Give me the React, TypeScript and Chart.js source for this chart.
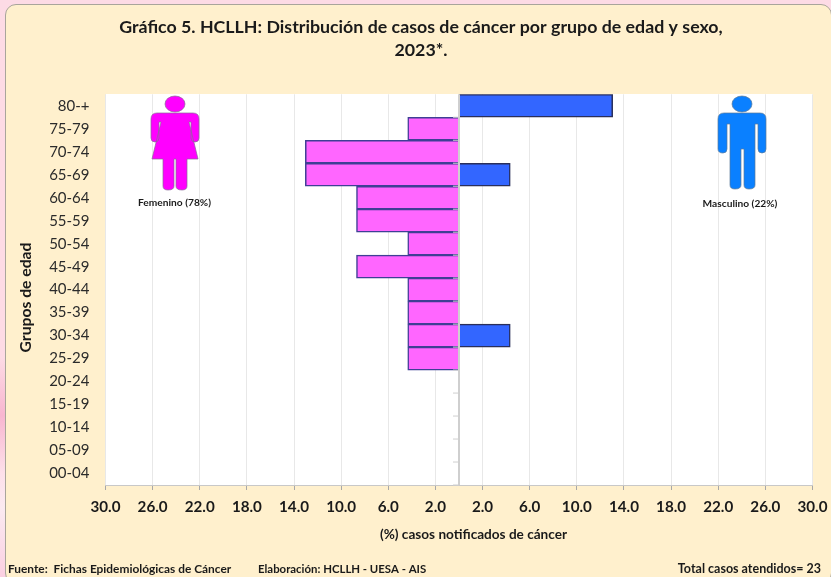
import React, { useEffect, useRef } from "react";
import { Chart, registerables } from "chart.js";

Chart.register(...registerables);

const categories = ["80-+","75-79","70-74","65-69","60-64","55-59","50-54","45-49","40-44","35-39","30-34","25-29","20-24","15-19","10-14","05-09","00-04"];
const femenino = [0,-4.35,-13.04,-13.04,-8.7,-8.7,-4.35,-8.7,-4.35,-4.35,-4.35,-4.35,0,0,0,0,0];
const masculino = [13.04,0,0,4.35,0,0,0,0,0,0,4.35,0,0,0,0,0,0];
const titleLines = ["Gráfico 5. HCLLH: Distribución de casos de cáncer por grupo de edad y sexo,","2023*."];

const FONT = "Lato, Carlito, 'Open Sans', sans-serif";

const notes = [
  { text: "(%) casos notificados de cáncer", x: 473.5, y: 535, size: 13.6, align: "center" },
  { text: "Fuente:  Fichas Epidemiológicas de Cáncer", x: 8, y: 569, size: 11.9, align: "left" },
  { text: "Elaboración: HCLLH - UESA - AIS", x: 258, y: 569, size: 11.4, align: "left" },
  { text: "Total casos atendidos= 23", x: 821, y: 569, size: 12.5, align: "right" },
  { text: "Femenino (78%)", x: 174.5, y: 203, size: 10.2, align: "center" },
  { text: "Masculino (22%)", x: 740, y: 204, size: 10.2, align: "center" },
];

const overlay = {
  id: "overlay",
  afterDatasetsDraw(chart: any) {
    const { ctx, scales } = chart;
    const x0 = scales.x.getPixelForValue(0);
    const yS = scales.y;
    const step = yS.getPixelForTick(1) - yS.getPixelForTick(0);
    ctx.save();
    ctx.strokeStyle = "#cfcfcf";
    ctx.lineWidth = 2;
    ctx.beginPath();
    ctx.moveTo(x0, chart.chartArea.top);
    ctx.lineTo(x0, chart.chartArea.bottom);
    ctx.stroke();
    ctx.lineWidth = 1;
    categories.forEach((_, i) => {
      const py = yS.getPixelForTick(i) + step / 2;
      ctx.beginPath();
      ctx.moveTo(x0 - 6, py);
      ctx.lineTo(x0, py);
      ctx.stroke();
    });
    ctx.fillStyle = "#1a1a1a";
    ctx.textBaseline = "middle";
    notes.forEach((n) => {
      ctx.font = `bold ${n.size}px ${FONT}`;
      ctx.textAlign = n.align;
      ctx.fillText(n.text, n.x, n.y);
    });
    ctx.translate(26, 297.5);
    ctx.rotate(-Math.PI / 2);
    ctx.textAlign = "center";
    ctx.font = `bold 15.7px ${FONT}`;
    ctx.fillText("Grupos de edad", 0, 0);
    ctx.restore();
  },
};

function Figures() {
  return (
    <svg width="831" height="577" style={{ position: "absolute", left: 0, top: 0, pointerEvents: "none" }}>
      <g fill="#ff00ff" stroke="#8a6a9a" strokeWidth="0.7">
        <ellipse cx="175" cy="104" rx="10" ry="8" />
        <path d="M157 113 H193 Q199 113 199 119 V138 Q199 142 195 142 Q191 142 191 138 V122 H189 L198 159 H187 V186 Q187 190 182 190 Q176 190 176 186 V159 H174 V186 Q174 190 168 190 Q163 190 163 186 V159 H152 L161 122 H159 V138 Q159 142 155 142 Q151 142 151 138 V119 Q151 113 157 113 Z" />
      </g>
      <g fill="#0a80ff" stroke="#5a7a9a" strokeWidth="0.7">
        <ellipse cx="742" cy="104" rx="10" ry="8" />
        <path d="M724 113 H760 Q766 113 766 119 V149 Q766 153 762 153 Q758 153 758 149 V124 H755 V185 Q755 189 749 189 Q744 189 744 185 V149 H741 V185 Q741 189 735 189 Q730 189 730 185 V124 H727 V149 Q727 153 723 153 Q718 153 718 149 V119 Q718 113 724 113 Z" />
      </g>
    </svg>
  );
}

export default function App() {
  const ref = useRef<HTMLCanvasElement>(null);
  useEffect(() => {
    document.body.style.margin = "0";
    const chart = new Chart(ref.current!, {
      type: "bar",
      data: {
        labels: categories,
        datasets: [
          { label: "Femenino", data: femenino, backgroundColor: "#ff66ff", borderColor: "#3f3f95", borderWidth: 1.5 },
          { label: "Masculino", data: masculino, backgroundColor: "#3366ff", borderColor: "#2a2f5a", borderWidth: 1.5 },
        ],
      },
      options: {
        indexAxis: "y",
        responsive: false,
        animation: false,
        layout: { padding: { left: 29.5, right: 18.5, top: 0, bottom: 0 } },
        plugins: {
          legend: { display: false },
          tooltip: { enabled: false },
          title: {
            display: true,
            text: titleLines,
            color: "#1a1a1a",
            font: { family: FONT, size: 17.8, weight: "bold", lineHeight: 1.3 },
            padding: { top: 16, bottom: 32 },
          },
        },
        scales: {
          x: {
            stacked: true,
            min: -30,
            max: 30,
            afterBuildTicks(s: any) { s.ticks = s.ticks.filter((t: any) => t.value !== 0); },
            ticks: {
              stepSize: 4,
              maxRotation: 0,
              autoSkip: false,
              color: "#1a1a1a",
              font: { family: FONT, size: 15.2, weight: "bold" },
              padding: 8,
              callback: (v: any) => Math.abs(Number(v)).toFixed(1),
            },
            grid: { color: "#e8e8e8", tickColor: "#a8a8a8", tickLength: 5, drawOnChartArea: true },
            border: { color: "#c8c8c8" },
            afterFit(s: any) { s.height = 92; s.paddingLeft = 0; s.paddingRight = 0; },
          },
          y: {
            stacked: true,
            grid: { display: false },
            border: { display: false },
            ticks: {
              autoSkip: false,
              color: "#2b2b2b",
              font: { family: FONT, size: 15 },
              padding: 8,
            },
            afterFit(s: any) { s.width = 76; },
          },
        },
        datasets: { bar: { barPercentage: 1, categoryPercentage: 1 } },
      } as any,
      plugins: [overlay as any],
    });
    return () => chart.destroy();
  }, []);
  return (
    <div style={{ position: "relative", width: 831, height: 577, overflow: "hidden", background: "linear-gradient(180deg,#fddbe5 0%,#fddbe5 62%,#f8b6d0 72%,#fde0ea 82%,#fbeaf1 88%,#fbd0e2 100%)" }}>
      <div style={{ position: "absolute", left: 5, top: 4, width: 827, height: 580, boxSizing: "border-box", background: "#fff0cd", border: "1px solid #a9a59b", borderRadius: 11 }} />
      <div style={{ position: "absolute", left: 105.5, top: 94, width: 707, height: 391, background: "#fff" }} />
      <canvas ref={ref} width={831} height={577} style={{ position: "absolute", left: 0, top: 0 }} />
      <Figures />
    </div>
  );
}
